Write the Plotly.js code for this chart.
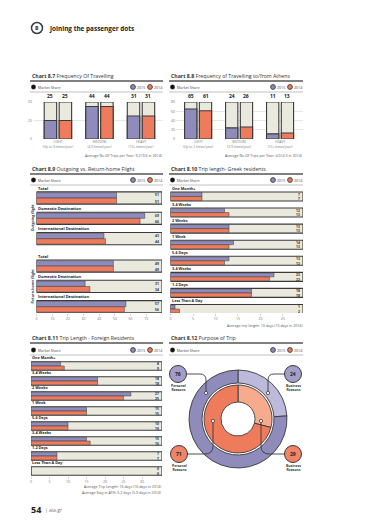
<!DOCTYPE html>
<html><head><meta charset="utf-8">
<script src="https://cdn.plot.ly/plotly-3.0.1.min.js"></script>
<style>html,body{margin:0;padding:0;background:#fff}#chart{width:380px;height:525px}</style>
</head><body><div id="chart"></div>
<script>
// ---------- data ----------
const freqCats = ["LIGHT", "MEDIUM", "HEAVY"];
const freqSub87 = ["(Up to 3 times/year)", "(4-9 times/year)", "(10+ times/year)"];
const freqSub88 = ["(Up to 2 times/year)", "(3-9 times/year)", "(10+ times/year)"];
const freq2015 = [25, 44, 31];
const freq2014 = [25, 44, 31];
const athens2015 = [65, 24, 11];
const athens2014 = [61, 26, 13];
const flightGroups = ["Outgoing flight", "Return-home flight"];
const flightCats = ["Total", "Domestic Destination", "International Destination"];
const outgoing2015 = [51, 69, 43];
const outgoing2014 = [51, 66, 44];
const returnHome2015 = [49, 31, 57];
const returnHome2014 = [49, 34, 56];
const lengthCats = ["One Month+", "3-4 Weeks", "2 Weeks", "1 Week", "5-6 Days", "3-4 Weeks", "1-2 Days", "Less Than A Day"];
const greek2015 = [7, 12, 13, 14, 13, 23, 18, 1];
const greek2014 = [7, 13, 13, 13, 12, 22, 18, 2];
const foreign2015 = [8, 18, 27, 15, 10, 15, 7, 0];
const foreign2014 = [9, 18, 25, 15, 10, 16, 7, 0];
const purposeCats = ["Business Reasons", "Personal Reasons"];
const purpose2015 = [24, 76];
const purpose2014 = [29, 71];

// ---------- style ----------
const W = 380, H = 525;
const X = p => p / W, Y = p => 1 - p / H;
const PURPLE = '#8f8bbb', ORANGE = '#ef7b5d', LIGHT = '#e9e9de', DARK = '#3a3a3a';
const PURPLE_L = '#bcb9da', ORANGE_L = '#f6aa8e';
const FONT = 'Open Sans';
const GRAY = '#7a7a7a';

const traces = [];
const annotations = [];
const shapes = [];

function ann(x, y, text, opts) {
  annotations.push(Object.assign({
    x: X(x), y: Y(y), xref: 'paper', yref: 'paper', text: text, showarrow: false,
    xanchor: 'left', yanchor: 'middle', borderpad: 0,
    font: {family: FONT, size: 4, color: DARK}
  }, opts || {}));
}
function circle(cx, cy, r, fill, lw) {
  shapes.push({type: 'circle', xref: 'paper', yref: 'paper',
    x0: X(cx - r), x1: X(cx + r), y0: Y(cy + r), y1: Y(cy - r),
    fillcolor: fill, line: {color: DARK, width: lw}});
}
function hline(x0, x1, y, w, c) {
  shapes.push({type: 'line', xref: 'paper', yref: 'paper', x0: X(x0), x1: X(x1), y0: Y(y), y1: Y(y),
    line: {color: c, width: w}});
}
function header(xl, xr, yTitle, num, title, legendY, thinY) {
  ann(xl, yTitle, '<b>Chart ' + num + '</b> ' + title, {font: {family: FONT, size: 5.2, color: '#333'}});
  hline(xl - 1, xr, yTitle + 5, 1.6, '#555');
  circle(xl + 2.5, legendY, 2.2, '#111', 0.5);
  ann(xl + 6, legendY, 'Market Share', {font: {family: FONT, size: 3.6, color: '#444'}});
  circle(xr - 30, legendY, 2.4, PURPLE, 0.9);
  ann(xr - 27, legendY, '2015', {font: {family: FONT, size: 3.6, color: '#444'}});
  circle(xr - 13, legendY, 2.4, ORANGE, 0.9);
  ann(xr - 10, legendY, '2014', {font: {family: FONT, size: 3.6, color: '#444'}});
  hline(xl - 1, xr, thinY, 0.6, '#999');
}

// ---------- page header ----------
circle(37, 28, 5.5, '#fff', 1.5);
ann(37, 28.3, '<b>8</b>', {xanchor: 'center', font: {family: FONT, size: 6, color: '#222'}});
ann(48, 28, '<b>Joining the passenger dots</b>', {font: {family: FONT, size: 6.4, color: '#222'}});

// ---------- vertical stacked charts (8.7, 8.8) ----------
function vertChart(ax, cats, subs, v15, v14, full) {
  const idx = cats.map((_, i) => i);
  const xa = 'x' + (ax === 1 ? '' : ax), ya = 'y' + (ax === 1 ? '' : ax);
  [[v15, PURPLE, -0.33], [v14, ORANGE, 0.03]].forEach(([vals, col, off]) => {
    traces.push({type: 'bar', x: idx, y: idx.map(() => full), offset: off, width: 0.3,
      marker: {color: LIGHT, line: {color: DARK, width: 1.1}}, xaxis: xa, yaxis: ya, hoverinfo: 'skip'});
    traces.push({type: 'bar', x: idx, y: vals, offset: off, width: 0.3,
      marker: {color: col, line: {color: DARK, width: 1.1}}, xaxis: xa, yaxis: ya, hoverinfo: 'skip'});
    vals.forEach((v, i) => annotations.push({xref: xa, yref: ya, x: i + off + 0.15, y: full, yanchor: 'bottom',
      yshift: 1.5, text: '<b>' + v + '</b>', showarrow: false, font: {family: FONT, size: 5, color: '#222'}}));
  });
}
vertChart(1, freqCats, freqSub87, freq2015, freq2014, 50);
vertChart(2, freqCats, freqSub88, athens2015, athens2014, 80);

// ---------- horizontal box charts ----------
function hChart(ax, labels, pos, v15, v14, full, boxW, labelSize) {
  const xa = 'x' + ax, ya = 'y' + ax;
  const half = boxW / 2, bw = half - 0.035;
  traces.push({type: 'bar', orientation: 'h', y: pos, x: pos.map(() => full), offset: -half, width: boxW,
    marker: {color: LIGHT, line: {color: DARK, width: 1.1}}, xaxis: xa, yaxis: ya, hoverinfo: 'skip'});
  traces.push({type: 'bar', orientation: 'h', y: pos, x: v15, offset: -half + 0.035, width: bw,
    marker: {color: PURPLE, line: {color: DARK, width: 0.5}}, xaxis: xa, yaxis: ya, hoverinfo: 'skip'});
  traces.push({type: 'bar', orientation: 'h', y: pos, x: v14, offset: 0.005, width: bw,
    marker: {color: ORANGE, line: {color: DARK, width: 0.5}}, xaxis: xa, yaxis: ya, hoverinfo: 'skip'});
  pos.forEach((p, i) => {
    annotations.push({xref: xa, yref: ya, x: 0, y: p - half, xanchor: 'left', yanchor: 'bottom', yshift: 0.3,
      text: '<b>' + labels[i] + '</b>', showarrow: false, borderpad: 0,
      font: {family: FONT, size: labelSize, color: '#222'}});
    annotations.push({xref: xa, yref: ya, x: full, y: p - half / 2, xanchor: 'right', xshift: -2,
      text: '<b>' + v15[i] + '</b>', showarrow: false, borderpad: 0, font: {family: FONT, size: 3.4, color: '#333'}});
    annotations.push({xref: xa, yref: ya, x: full, y: p + half / 2, xanchor: 'right', xshift: -2,
      text: '<b>' + v14[i] + '</b>', showarrow: false, borderpad: 0, font: {family: FONT, size: 3.4, color: '#333'}});
  });
}
const flightLabels = flightCats.concat(flightCats);
const flightPos = flightLabels.map((_, i) => i + (i >= flightCats.length ? 0.35 : 0));
hChart(3, flightLabels, flightPos, outgoing2015.concat(returnHome2015), outgoing2014.concat(returnHome2014), 80, 0.6, 4);
flightGroups.forEach((g, k) => annotations.push({xref: 'paper', yref: 'y3', x: X(32), y: flightPos[k * 3 + 1],
  text: '<b>' + g + '</b>', textangle: -90, showarrow: false, xanchor: 'center', yanchor: 'middle',
  font: {family: FONT, size: 3.6, color: '#333'}}));

const lenPos = lengthCats.map((_, i) => i);
hChart(4, lengthCats, lenPos, greek2015, greek2014, 29.45, 0.56, 3.8);
hChart(5, lengthCats, lenPos, foreign2015, foreign2014, 35.4, 0.57, 3.8);

// ---------- pies (8.12) ----------
traces.push({type: 'pie', labels: purposeCats, values: purpose2015, sort: false, direction: 'clockwise', rotation: 0,
  hole: 0.735, textinfo: 'none', textposition: 'none', showlegend: false, hoverinfo: 'skip',
  marker: {colors: [PURPLE_L, PURPLE], line: {color: DARK, width: 0.9}},
  domain: {x: [X(189), X(287)], y: [Y(468), Y(370)]}});
traces.push({type: 'pie', labels: purposeCats, values: purpose2014, sort: false, direction: 'clockwise', rotation: 0,
  hole: 0.5, textinfo: 'none', textposition: 'none', showlegend: false, hoverinfo: 'skip',
  marker: {colors: [ORANGE_L, ORANGE], line: {color: DARK, width: 0.9}},
  domain: {x: [X(204), X(272)], y: [Y(453), Y(385)]}});

// ---------- headers ----------
header(31, 163, 76, '8.7', 'Frequency Of Travelling', 87, 92);
header(170, 303, 76, '8.8', 'Frequency of Travelling to/from Athens', 87, 92);
header(31, 163, 169, '8.9', 'Outgoing vs. Return-home Flight', 180, 185);
header(170, 303, 169, '8.10', 'Trip length- Greek residents', 180, 185);
header(31, 163, 338, '8.11', 'Trip Length - Foreign Residents', 350, 355);
header(170, 303, 338, '8.12', 'Purpose of Trip', 350, 355);

// footnotes
const fn = {family: FONT, size: 3.6, color: '#555'};
ann(163, 155, 'Average No Of Trips per Year: 9.2 (9.6 in 2014)', {xanchor: 'right', font: fn});
ann(303, 155, 'Average No Of Trips per Year: 4.0 (4.3 in 2014)', {xanchor: 'right', font: fn});
ann(303, 325, 'Average trip length: 13 days (15 days in 2014)', {xanchor: 'right', font: fn});
ann(162, 486, 'Average Trip Length: 16 days (16 days in 2014)', {xanchor: 'right', font: fn});
ann(162, 492, 'Average Stay in ATH: 5.2 days (5.9 days in 2014)', {xanchor: 'right', font: fn});

// purpose callouts
function callout(cx, cy, val, fill, label) {
  circle(cx, cy, 8.5, fill, 1);
  ann(cx, cy + 0.3, '<b>' + val + '</b>', {xanchor: 'center', font: {family: FONT, size: 5, color: '#222'}});
  ann(cx, cy + 13.5, '<b>' + label.replace(' ', '<br>') + '</b>', {xanchor: 'center', align: 'center',
    font: {family: FONT, size: 3.4, color: '#333'}});
}
callout(178, 374, purpose2015[1], '#a29ec9', purposeCats[1]);
callout(293, 374, purpose2015[0], '#a29ec9', purposeCats[0]);
callout(179, 454, purpose2014[1], '#f08466', purposeCats[1]);
callout(293, 454, purpose2014[0], '#f08466', purposeCats[0]);
function P(x, y) { return X(x) + ',' + Y(y); }
[
  'M' + P(186.5, 374) + ' L' + P(200, 374) + ' Q' + P(206, 374) + ' ' + P(206, 380) + ' L' + P(206, 391.4),
  'M' + P(284.5, 374) + ' L' + P(274, 374) + ' Q' + P(268, 374) + ' ' + P(268, 380) + ' L' + P(268, 391.4),
  'M' + P(187.5, 454) + ' L' + P(205, 454) + ' Q' + P(213, 454) + ' ' + P(213, 446) + ' L' + P(213, 422.6),
  'M' + P(284.5, 454) + ' L' + P(269, 454) + ' Q' + P(261, 454) + ' ' + P(261, 446) + ' L' + P(261, 422.6)
].forEach(d => shapes.push({type: 'path', xref: 'paper', yref: 'paper', path: d, line: {color: DARK, width: 0.9}}));
[[206, 393], [268, 393], [213, 421], [261, 421]].forEach(([x, y]) => circle(x, y, 1.6, '#fff', 0.8));

// page footer
ann(30, 509, '<b>54</b>', {font: {family: FONT, size: 9, color: '#222'}});
ann(44, 509.5, '| aia.gr', {font: {family: FONT, size: 5, color: '#777'}});

// ---------- axes ----------
const tf = {family: FONT, size: 3.6, color: GRAY};
const base = {fixedrange: true, zeroline: false, showline: false};
const layout = {
  width: W, height: H, margin: {l: 0, r: 0, t: 0, b: 0}, paper_bgcolor: '#fff', plot_bgcolor: 'rgba(0,0,0,0)',
  barmode: 'overlay', showlegend: false, font: {family: FONT},
  xaxis: Object.assign({}, base, {domain: [X(33), X(163)], range: [-0.6, 2.53], anchor: 'y', showgrid: false,
    tickvals: [0, 1, 2], ticktext: freqCats.map((c, i) => c + '<br>' + freqSub87[i]), tickfont: {family: FONT, size: 3.3, color: GRAY}}),
  yaxis: Object.assign({}, base, {domain: [Y(139), Y(102)], range: [0, 50], anchor: 'x', tickvals: [0, 25, 50],
    gridcolor: '#cfcfcf', gridwidth: 0.5, tickfont: tf}),
  xaxis2: Object.assign({}, base, {domain: [X(176), X(303)], range: [-0.54, 2.56], anchor: 'y2', showgrid: false,
    tickvals: [0, 1, 2], ticktext: freqCats.map((c, i) => c + '<br>' + freqSub88[i]), tickfont: {family: FONT, size: 3.3, color: GRAY}}),
  yaxis2: Object.assign({}, base, {domain: [Y(139), Y(102)], range: [0, 80], anchor: 'x2', tickvals: [0, 20, 40, 60, 80],
    gridcolor: '#cfcfcf', gridwidth: 0.5, tickfont: tf}),
  xaxis3: Object.assign({}, base, {domain: [X(36.5), X(162)], range: [0, 80], anchor: 'y3', showgrid: false,
    tickvals: [0, 10, 20, 30, 40, 50, 60, 70], ticks: 'outside', ticklen: 2, tickcolor: '#aaa', tickwidth: 0.5, tickfont: tf}),
  yaxis3: Object.assign({}, base, {domain: [Y(313), Y(185)], range: [5.66, -0.64], anchor: 'x3', visible: false}),
  xaxis4: Object.assign({}, base, {domain: [X(170.5), X(303)], range: [0, 29.45], anchor: 'y4', showgrid: false,
    tickvals: [0, 5, 10, 15, 20, 25], ticks: 'outside', ticklen: 2, tickcolor: '#aaa', tickwidth: 0.5, tickfont: tf}),
  yaxis4: Object.assign({}, base, {domain: [Y(313), Y(186)], range: [7.25, -0.65], anchor: 'x4', visible: false}),
  xaxis5: Object.assign({}, base, {domain: [X(31), X(162)], range: [0, 35.4], anchor: 'y5', showgrid: false,
    tickvals: [0, 5, 10, 15, 20, 25, 30], ticks: 'outside', ticklen: 2, tickcolor: '#aaa', tickwidth: 0.5, tickfont: tf}),
  yaxis5: Object.assign({}, base, {domain: [Y(476), Y(355)], range: [7.33, -0.73], anchor: 'x5', visible: false}),
  annotations: annotations, shapes: shapes
};
Plotly.newPlot('chart', traces, layout, {staticPlot: true, displayModeBar: false});
</script></body></html>
